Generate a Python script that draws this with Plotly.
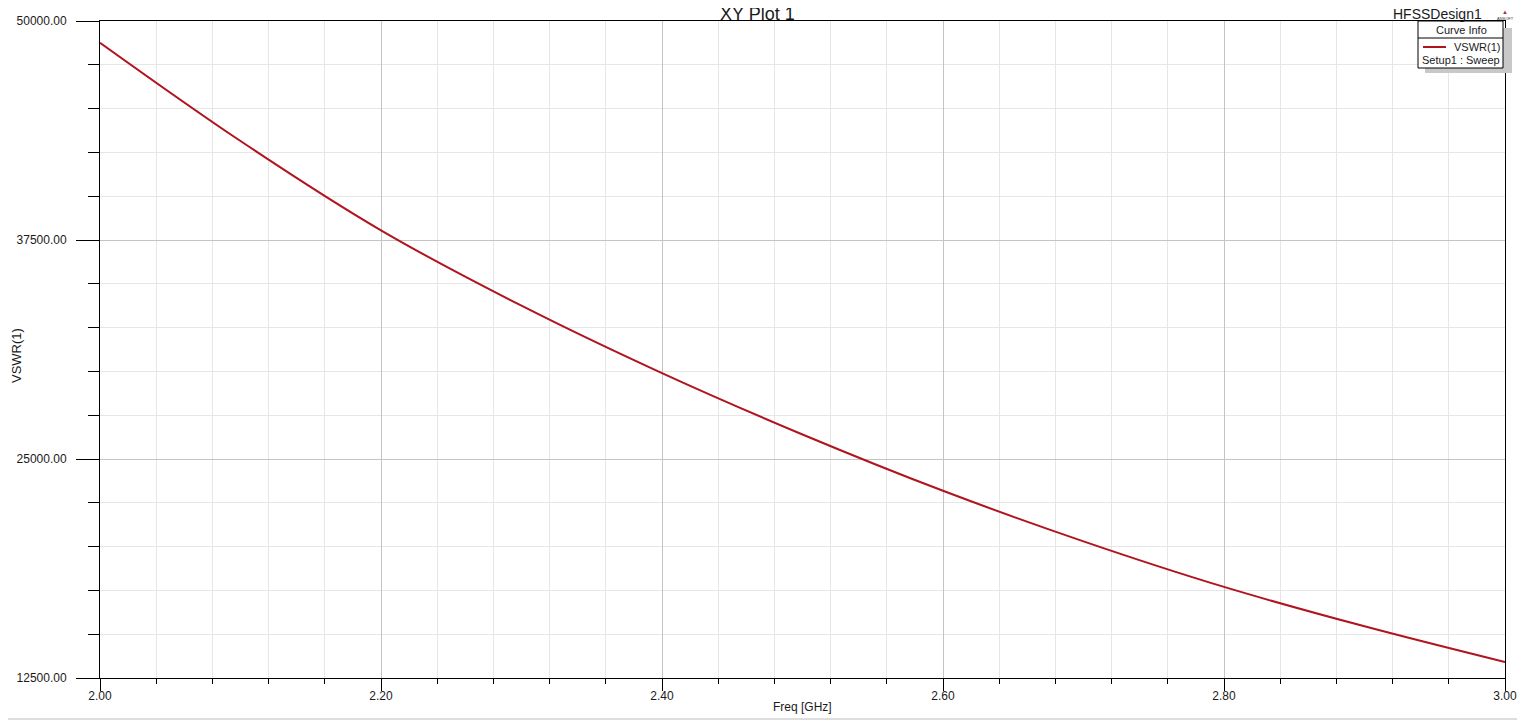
import plotly.graph_objects as go

# Data
freq_ghz = [2.0, 2.1, 2.2, 2.3, 2.4, 2.5, 2.6, 2.7, 2.8, 2.9, 3.0]
vswr = [48760, 43150, 38050, 33750, 29900, 26400, 23185, 20300, 17700, 15450, 13410]

x_ticks = [2.0, 2.2, 2.4, 2.6, 2.8, 3.0]
y_ticks = [12500, 25000, 37500, 50000]

# page body has an 8px margin; work in page pixels and convert
OFF = 8
PW, PH = 1525, 721
W, H = PW - OFF, PH - OFF
L, R, T, B = 100 - OFF, 1505 - OFF, 21 - OFF, 678 - OFF


def px(x):
    return (x - OFF - L) / (R - L)


def py(y):
    return (B - (y - OFF)) / (B - T)


FONT = "Liberation Sans, Arial, sans-serif"

fig = go.Figure()
fig.add_trace(go.Scatter(
    x=freq_ghz, y=vswr, mode="lines", name="VSWR(1)",
    line=dict(color="#B0141E", width=2, shape="spline"),
    showlegend=False, hoverinfo="x+y",
))

fig.update_layout(
    width=W, height=H,
    margin=dict(l=L, r=W - R, t=T, b=H - B, autoexpand=False),
    paper_bgcolor="white", plot_bgcolor="white",
    font=dict(family=FONT, size=12, color="#1a1a1a"),
    showlegend=False,
)

fig.update_xaxes(
    range=[2.0, 3.0], tickvals=x_ticks, tickformat=".2f", automargin=False,
    ticks="outside", ticklen=12, tickcolor="black", tickwidth=1,
    ticklabelstandoff=-5,
    showline=True, linecolor="black", linewidth=1, mirror=True,
    showgrid=True, gridcolor="#c4c4c4", gridwidth=1, zeroline=False,
    minor=dict(dtick=0.04, tick0=2.0, ticks="outside", ticklen=5, tickcolor="black",
               showgrid=True, gridcolor="#e6e6e6", gridwidth=1),
    tickfont=dict(size=12, family=FONT, color="#1a1a1a"),
)
fig.update_yaxes(
    range=[12500, 50000], tickvals=y_ticks, tickformat=".2f", automargin=False,
    ticks="outside", ticklen=23, tickcolor="black", tickwidth=1,
    ticklabelstandoff=7,
    showline=True, linecolor="black", linewidth=1, mirror=True,
    showgrid=True, gridcolor="#c4c4c4", gridwidth=1, zeroline=False,
    minor=dict(dtick=2500, tick0=12500, ticks="outside", ticklen=11, tickcolor="black",
               showgrid=True, gridcolor="#e6e6e6", gridwidth=1),
    tickfont=dict(size=12, family=FONT, color="#1a1a1a"),
)

shapes = []
annotations = []

# Axis titles
annotations.append(dict(text="Freq [GHz]", x=px(802), y=py(707), xref="paper", yref="paper",
                        showarrow=False, xanchor="center", yanchor="middle",
                        font=dict(size=12, family=FONT, color="#1a1a1a")))
annotations.append(dict(text="VSWR(1)", x=px(16), y=py(356), xref="paper", yref="paper",
                        showarrow=False, xanchor="center", yanchor="middle", textangle=-90,
                        font=dict(size=13, family=FONT, color="#1a1a1a")))

# Title
annotations.append(dict(text="XY Plot 1", x=px(757), y=py(14), xref="paper", yref="paper",
                        showarrow=False, xanchor="center", yanchor="middle",
                        font=dict(size=18, family=FONT, color="#1a1a1a")))
annotations.append(dict(text="HFSSDesign1", x=px(1484), y=py(14), xref="paper", yref="paper",
                        showarrow=False, xanchor="right", yanchor="middle",
                        font=dict(size=14, family=FONT, color="#1a1a1a")))
# Ansoft logo
annotations.append(dict(text="▲", x=px(1505), y=py(12), xref="paper", yref="paper",
                        showarrow=False, xanchor="center", yanchor="middle",
                        font=dict(size=6, family=FONT, color="#b03030")))
annotations.append(dict(text="ANSOFT", x=px(1505), y=py(18), xref="paper", yref="paper",
                        showarrow=False, xanchor="center", yanchor="middle",
                        font=dict(size=4, family=FONT, color="#333333")))

# Curve Info legend box
shapes.append(dict(type="rect", xref="paper", yref="paper",
                   x0=px(1425), x1=px(1512), y0=py(28), y1=py(73),
                   fillcolor="#c8c8c8", line=dict(width=0), layer="above"))
shapes.append(dict(type="rect", xref="paper", yref="paper",
                   x0=px(1418), x1=px(1503), y0=py(21), y1=py(68),
                   fillcolor="white", line=dict(color="black", width=1), layer="above"))
shapes.append(dict(type="line", xref="paper", yref="paper",
                   x0=px(1418), x1=px(1503), y0=py(38), y1=py(38),
                   line=dict(color="black", width=1), layer="above"))
shapes.append(dict(type="line", xref="paper", yref="paper",
                   x0=px(1423), x1=px(1446), y0=py(47), y1=py(47),
                   line=dict(color="#B0141E", width=2), layer="above"))
annotations.append(dict(text="Curve Info", x=px(1461), y=py(30), xref="paper", yref="paper",
                        showarrow=False, xanchor="center", yanchor="middle",
                        font=dict(size=11, family=FONT, color="#1a1a1a")))
annotations.append(dict(text="VSWR(1)", x=px(1502), y=py(47), xref="paper", yref="paper",
                        showarrow=False, xanchor="right", yanchor="middle",
                        font=dict(size=11, family=FONT, color="#1a1a1a")))
annotations.append(dict(text="Setup1 : Sweep", x=px(1461), y=py(60), xref="paper", yref="paper",
                        showarrow=False, xanchor="center", yanchor="middle",
                        font=dict(size=11, family=FONT, color="#1a1a1a")))

# bottom separator
shapes.append(dict(type="line", xref="paper", yref="paper",
                   x0=px(OFF), x1=px(PW), y0=py(719), y1=py(719),
                   line=dict(color="#dddddd", width=2), layer="above"))

fig.update_layout(shapes=shapes, annotations=annotations)
fig.write_html("out.html")
